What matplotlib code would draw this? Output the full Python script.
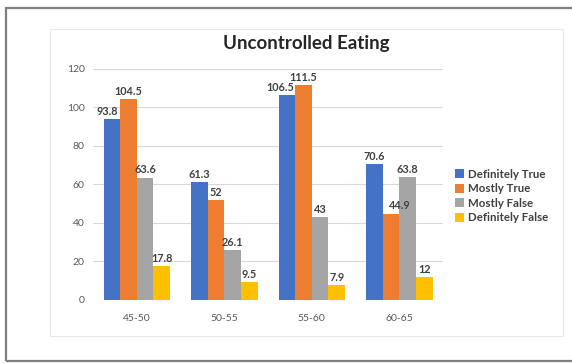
import numpy as np
import matplotlib
matplotlib.use('Agg')
import matplotlib.pyplot as plt
from matplotlib.patches import Rectangle

plt.rcParams['font.family'] = ['Lato', 'DejaVu Sans']

# data
age_groups = ['45-50', '50-55', '55-60', '60-65']
definitely_true = [93.8, 61.3, 106.5, 70.6]
mostly_true = [104.5, 52, 111.5, 44.9]
mostly_false = [63.6, 26.1, 43, 63.8]
definitely_false = [17.8, 9.5, 7.9, 12]
series_names = ['Definitely True', 'Mostly True', 'Mostly False', 'Definitely False']
colors = ['#4472C4', '#ED7D31', '#A5A5A5', '#FFC000']

fig = plt.figure(figsize=(5.72, 3.63), dpi=100)
ax = fig.add_axes([0.1626, 0.1736, 0.6119, 0.6364])

# outer frame and chart area box
fig.patches.append(Rectangle((6 / 572, 2 / 363), 1.0, 353 / 363, transform=fig.transFigure,
                             fill=False, edgecolor='#7f7f7f', linewidth=1.6))
fig.patches.append(Rectangle((50 / 572, 27 / 363), 513 / 572, 307 / 363, transform=fig.transFigure,
                             fill=False, edgecolor='#e8e8e8', linewidth=0.8))

x = np.arange(len(age_groups))
width = 0.19
all_series = [definitely_true, mostly_true, mostly_false, definitely_false]
# small sideways nudges (points) Excel applied to avoid overlapping labels
nudges = {(0, 0): -3, (0, 2): -5, (1, 3): 6}
for i, (vals, name) in enumerate(zip(all_series, series_names)):
    bars = ax.bar(x + (i - 1.5) * width, vals, width, color=colors[i], label=name, zorder=3)
    texts = ax.bar_label(bars, labels=[f'{v:g}' for v in vals], padding=1.5, fontsize=7.8,
                         fontweight='bold', color='#404040')
    for j, t in enumerate(texts):
        t.set_zorder(10)
        if (i, j) in nudges:
            t.xyann = (nudges[(i, j)], t.xyann[1])

ax.set_xlim(-0.5, 3.5)
ax.set_ylim(0, 120)
ax.set_yticks(range(0, 121, 20))
ax.set_xticks(x)
ax.set_xticklabels(age_groups)
ax.tick_params(axis='both', length=0, labelsize=7.5, labelcolor='#595959')
ax.tick_params(axis='y', pad=6)
ax.tick_params(axis='x', pad=10)
ax.grid(axis='y', color='#d9d9d9', linewidth=0.8, zorder=0)
for s in ax.spines.values():
    s.set_visible(False)

fig.text(306 / 572, 1 - 44 / 363, 'Uncontrolled Eating', ha='center', va='center',
         fontsize=13.5, fontweight='bold', color='#262626')

leg = ax.legend(loc='center left', bbox_to_anchor=(1.02, 0.45), frameon=False,
                fontsize=8.3, handlelength=0.85, handleheight=0.85, handletextpad=0.3,
                labelspacing=0.3, borderaxespad=0)
for t in leg.get_texts():
    t.set_fontweight('bold')
    t.set_color('#404040')

fig.savefig('out.png', dpi=100)
